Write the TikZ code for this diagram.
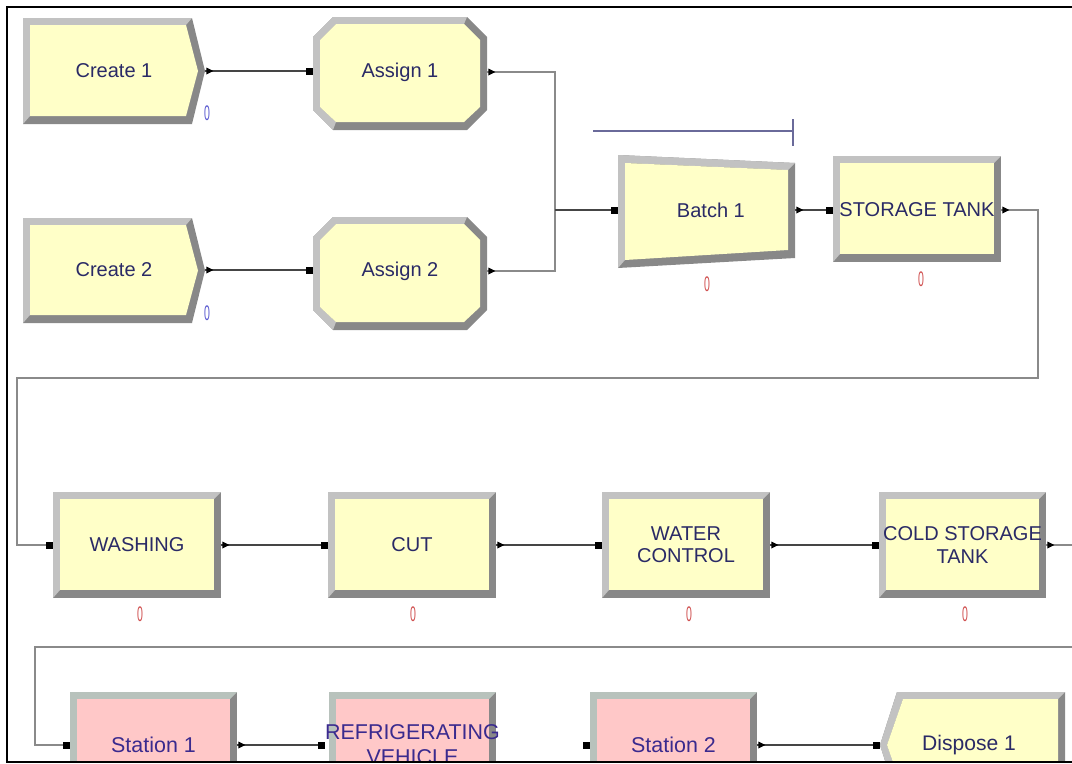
\documentclass[tikz,border=0pt]{standalone}
\usepackage{fontspec}
\setmainfont{Liberation Sans}
\usetikzlibrary{calc}
\definecolor{face}{HTML}{FFFFC8}
\definecolor{pinkface}{HTML}{FFC8C8}
\definecolor{bevlight}{HTML}{C2C2C2}
\definecolor{bevlightg}{HTML}{B8C2BC}
\definecolor{bevdark}{HTML}{888888}
\definecolor{lblcol}{HTML}{2A2A66}
\definecolor{stcol}{HTML}{3A2A8E}
\definecolor{cntblue}{HTML}{5A5AD0}
\definecolor{cntred}{HTML}{D05050}
\definecolor{linecol}{HTML}{454545}
\definecolor{routecol}{HTML}{8A8A8A}
\definecolor{batchbar}{HTML}{6A6A9A}

% bevelled rectangle: x1,y1,x2,y2,light,face
\newcommand\bevrect[6]{%
  \fill[bevdark] (#1,#2) rectangle (#3,#4);
  \fill[#5] (#1,#4) -- (#1,#2) -- (#3,#2) -- ({#3-7},{#2+7}) -- ({#1+7},{#2+7}) -- ({#1+7},{#4-8}) -- cycle;
  \fill[#6] ({#1+7},{#2+7}) rectangle ({#3-7},{#4-8});
}
% bevelled octagon: x1,y1,x2,y2
\newcommand\bevoct[4]{%
  \fill[bevdark] ({#1+20},#2) -- ({#3-20},#2) -- (#3,{#2+20}) -- (#3,{#4-20}) -- ({#3-20},#4) -- ({#1+20},#4) -- (#1,{#4-20}) -- (#1,{#2+20}) -- cycle;
  \fill[bevlight] ({#1+20},#4) -- (#1,{#4-20}) -- (#1,{#2+20}) -- ({#1+20},#2) -- ({#3-20},#2) -- ({#3-23},{#2+7}) -- ({#1+23},{#2+7}) -- ({#1+7},{#2+23}) -- ({#1+7},{#4-23}) -- ({#1+23},{#4-8}) -- cycle;
  \fill[face] ({#1+23},{#2+7}) -- ({#3-23},{#2+7}) -- ({#3-7},{#2+23}) -- ({#3-7},{#4-23}) -- ({#3-23},{#4-8}) -- ({#1+23},{#4-8}) -- ({#1+7},{#4-23}) -- ({#1+7},{#2+23}) -- cycle;
}
% create shape: x1,y1,xr,xt,y2
\newcommand\bevcreate[5]{%
  \fill[bevdark] (#1,#2) -- (#3,#2) -- (#4,{(#2+#5)/2}) -- (#3,#5) -- (#1,#5) -- cycle;
  \fill[bevlight] (#1,#5) -- (#1,#2) -- (#3,#2) -- ({#3-6},{#2+7}) -- ({#1+7},{#2+7}) -- ({#1+7},{#5-8}) -- cycle;
  \fill[face] ({#1+7},{#2+7}) -- ({#3-6},{#2+7}) -- ({#4-7},{(#2+#5)/2}) -- ({#3-6},{#5-8}) -- ({#1+7},{#5-8}) -- cycle;
}
\newcommand\outmark[1]{\fill ($(#1.east)+(1,-3.5)$) -- ++(7,3.5) -- ++(-7,3.5) -- cycle;}
\newcommand\inmark[1]{\fill ($(#1.west)+(-7,-3.5)$) rectangle ++(7,7);}

\begin{document}
\begin{tikzpicture}[x=0.02cm,y=-0.02cm,
  lbl/.style={inner sep=0pt, align=center, text=lblcol, font=\fontsize{11.4}{12.6}\selectfont},
  stlbl/.style={inner sep=0pt, align=center, text=stcol, font=\fontsize{12.2}{14.2}\selectfont},
  cnt/.style={inner sep=0pt, font=\fontsize{12}{12}\selectfont},
  conn/.style={draw=linecol, line width=0.6pt},
  route/.style={draw=routecol, line width=0.8pt},
  bar/.style={draw=batchbar, line width=0.8pt}]
\useasboundingbox (0,0) rectangle (1072,764);
\fill[white] (0,0) rectangle (1072,764);

\begin{scope}
\clip (8,8) rectangle (1072,761);

% ---- shapes ----
\bevcreate{23}{18}{192}{205}{124}
\bevcreate{23}{218}{192}{205}{323}
\bevoct{313}{17}{487}{130}
\bevoct{313}{217}{487}{330}
\fill[bevdark] (618,155) -- (795,163) -- (795,258) -- (618,268) -- cycle;
\fill[bevlight] (618,268) -- (618,155) -- (795,163) -- (788,170) -- (625,163) -- (625,260) -- cycle;
\fill[face] (625,163) -- (788,170) -- (788,250) -- (625,260) -- cycle;
\bevrect{833}{156}{1001}{262}{bevlight}{face}
\bevrect{53}{492}{221}{598}{bevlight}{face}
\bevrect{328}{492}{496}{598}{bevlight}{face}
\bevrect{602}{492}{770}{598}{bevlight}{face}
\bevrect{879}{492}{1046}{598}{bevlight}{face}
\bevrect{70}{692}{237}{798}{bevlightg}{pinkface}
\bevrect{329}{692}{496}{798}{bevlightg}{pinkface}
\bevrect{590}{692}{757}{798}{bevlightg}{pinkface}
\fill[bevdark] (897,692) -- (1065,692) -- (1065,798) -- (897,798) -- (880,745) -- cycle;
\fill[bevlight] (897,798) -- (880,745) -- (897,692) -- (1065,692) -- (1058,699) -- (903,699) -- (887,745) -- (903,791) -- cycle;
\fill[face] (903,699) -- (1058,699) -- (1058,791) -- (903,791) -- (887,745) -- cycle;

% batch bar
\draw[bar] (593,131) -- (793,131);
\draw[bar] (793,119) -- (793,146);

% ---- nodes ----
\node[lbl, minimum width=3.64cm, minimum height=2.12cm] (c1) at (114,71) {Create 1};
\node[lbl, minimum width=3.64cm, minimum height=2.12cm] (c2) at (114,270) {Create 2};
\node[lbl, minimum width=3.48cm, minimum height=2.26cm] (a1) at (400,72) {Assign 1};
\node[lbl, minimum width=3.48cm, minimum height=2.26cm] (a2) at (400,271) {Assign 2};
\node[lbl, minimum width=3.54cm, minimum height=2.26cm] (b1) at (706.5,210) {\hspace*{5pt}Batch 1};
\node[lbl, minimum width=3.36cm, minimum height=2.12cm] (st) at (917,210) {STORAGE TANK};
\node[lbl, minimum width=3.36cm, minimum height=2.12cm] (wa) at (137,545) {WASHING};
\node[lbl, minimum width=3.36cm, minimum height=2.12cm] (cu) at (412,545) {CUT};
\node[lbl, minimum width=3.36cm, minimum height=2.12cm] (wc) at (686,545) {WATER\\CONTROL};
\node[lbl, minimum width=3.34cm, minimum height=2.12cm] (co) at (962.5,545) {COLD STORAGE\\TANK};
\node[stlbl, minimum width=3.34cm, minimum height=2.12cm] (s1) at (153.5,745) {Station 1};
\node[stlbl, minimum width=3.34cm, minimum height=2.12cm] (rv) at (412.5,745) {REFRIGERATING\\VEHICLE};
\node[stlbl, minimum width=3.34cm, minimum height=2.12cm] (s2) at (673.5,745) {Station 2};
\node[lbl, minimum width=3.70cm, minimum height=2.12cm, font=\fontsize{12}{14}\selectfont] (d1) at (972.5,745) {\hspace*{-4pt}Dispose 1};

% counters
\node[cnt, text=cntblue] (k1) at (207,113) {\scalebox{0.5}[1]{0}};
\node[cnt, text=cntblue] (k2) at (207,313) {\scalebox{0.5}[1]{0}};
\node[cnt, text=cntred] (k3) at (707,284) {\scalebox{0.5}[1]{0}};
\node[cnt, text=cntred] (k4) at (921,279) {\scalebox{0.5}[1]{0}};
\node[cnt, text=cntred] (k5) at (140,614) {\scalebox{0.5}[1]{0}};
\node[cnt, text=cntred] (k6) at (413,614) {\scalebox{0.5}[1]{0}};
\node[cnt, text=cntred] (k7) at (689,614) {\scalebox{0.5}[1]{0}};
\node[cnt, text=cntred] (k8) at (965,614) {\scalebox{0.5}[1]{0}};

% ---- connectors ----
\coordinate (j1) at (555,210);
\coordinate (r1) at (1038,378);
\coordinate (r2) at (17,378);
\coordinate (r3) at (1090,647);
\coordinate (r4) at (35,647);

\draw[conn] (c1.east) -- (c1.east -| a1.west);
\draw[conn] (c2.east) -- (c2.east -| a2.west);
\draw[route] (a1.east) -| (j1);
\draw[route] (a2.east) -| (j1);
\draw[conn] (j1) -- (b1.west);
\draw[conn] (b1.east) -- (st.west);
\draw[route] (st.east) -| (r1) -- (r2) |- (wa.west);
\draw[conn] (wa.east) -- (cu.west);
\draw[conn] (cu.east) -- (wc.west);
\draw[conn] (wc.east) -- (co.west);
\draw[route] (co.east) -| (r3) -- (r4) |- (s1.west);
\draw[conn] (s1.east) -- (rv.west);
\draw[conn] (s2.east) -- (d1.west);

% ports
\foreach \n in {c1,c2,a1,a2,b1,st,wa,cu,wc,co,s1,s2} {\outmark{\n}}
\foreach \n in {b1,st,wa,cu,wc,co,s1,rv,s2,d1} {\inmark{\n}}
\fill ($(c1.east -| a1.west)+(-7,-3.5)$) rectangle ++(7,7);
\fill ($(c2.east -| a2.west)+(-7,-3.5)$) rectangle ++(7,7);
\end{scope}

% frame
\draw[line width=1.2pt] (1072,7) -- (7,7) -- (7,762) -- (1072,762);
\end{tikzpicture}
\end{document}
